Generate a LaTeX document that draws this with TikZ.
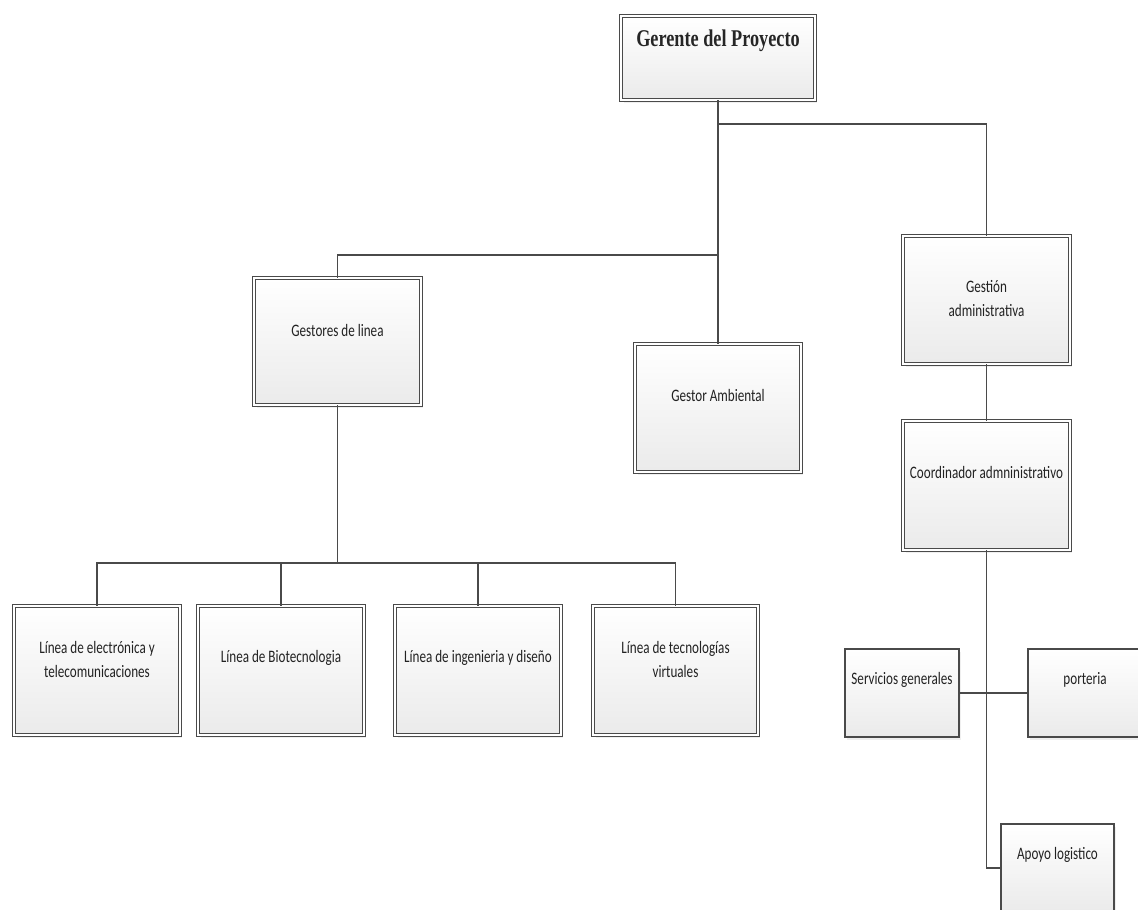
\documentclass[tikz,border=0pt]{standalone}
\usepackage{fontspec}
\usetikzlibrary{shadows}
\newfontfamily\boxfont[FakeStretch=0.75]{Carlito}
\newfontfamily\headfont[FakeStretch=0.76]{Liberation Serif}
\definecolor{edge}{HTML}{4A4A4A}
\definecolor{ink}{HTML}{222222}
\tikzset{
  x=1pt, y=1pt,
  unitbox/.style={rectangle, inner sep=0pt, draw=edge, line width=1.2pt,
    double=white, double distance=2pt,
    top color=white, bottom color=black!8,
    drop shadow={shadow xshift=2.5pt, shadow yshift=-3pt, fill=black!12, opacity=0.5}},
  plainbox/.style={rectangle, inner sep=0pt, draw=edge, line width=1.3pt,
    top color=white, bottom color=black!8,
    drop shadow={shadow xshift=2pt, shadow yshift=-2.5pt, fill=black!12, opacity=0.5}},
  lbl/.style={font=\boxfont\fontsize{17.5}{24}\selectfont, text=ink, align=center, inner sep=0pt},
  link/.style={draw=edge, line width=1.3pt}
}
\begin{document}
\begin{tikzpicture}
\path[use as bounding box, fill=white] (0,0) rectangle (1138,-910);
\clip (0,0) rectangle (1138,-910);

% head of the project
\node[unitbox, minimum width=193.6pt, minimum height=83.6pt] (G) at (718,-58) {};
\node[font=\headfont\bfseries\fontsize{24}{28}\selectfont, text=black!85, inner sep=0pt] (Gt) at (718,-41) {Gerente del Proyecto};

% second level
\node[unitbox, minimum width=166.6pt, minimum height=126.6pt] (GL) at (337.5,-341.5) {};
\node[lbl] (GLt) at (337.5,-330) {Gestores de linea};

\node[unitbox, minimum width=165.6pt, minimum height=127.6pt] (GA) at (718,-408) {};
\node[lbl] (GAt) at (718,-395) {Gestor Ambiental};

\node[unitbox, minimum width=166.6pt, minimum height=127.6pt] (GAd) at (986.5,-300) {};
\node[lbl] (GAdt) at (986.5,-298.5) {Gestión\\administrativa};

\node[unitbox, minimum width=166.6pt, minimum height=128.6pt] (CA) at (986.5,-485.5) {};
\node[lbl] (CAt) at (986.5,-472) {Coordinador admninistrativo};

% research lines
\node[unitbox, minimum width=165.6pt, minimum height=128.6pt] (L1) at (97,-670.5) {};
\node[lbl] (L1t) at (97,-659.5) {Línea de electrónica y\\telecomunicaciones};

\node[unitbox, minimum width=165.6pt, minimum height=128.6pt] (L2) at (281,-670.5) {};
\node[lbl] (L2t) at (281,-658) {Línea de Biotecnologia};

\node[unitbox, minimum width=165.6pt, minimum height=128.6pt] (L3) at (478,-670.5) {};
\node[lbl] (L3t) at (478,-658) {Línea de ingenieria y diseño};

\node[unitbox, minimum width=164.6pt, minimum height=128.6pt] (L4) at (675.5,-670.5) {};
\node[lbl] (L4t) at (675.5,-659.5) {Línea de tecnologías\\virtuales};

% support staff
\node[plainbox, minimum width=114pt, minimum height=88pt] (SG) at (902,-693) {};
\node[lbl] (SGt) at (902,-680) {Servicios generales};

\node[plainbox, minimum width=114pt, minimum height=88pt] (PO) at (1085,-693) {};
\node[lbl] (POt) at (1085,-680) {porteria};

\node[plainbox, minimum width=113pt, minimum height=88pt] (AL) at (1057.5,-868) {};
\node[lbl] (ALt) at (1057.5,-855) {Apoyo logistico};

% junctions
\coordinate (jTop) at (718,-124);
\coordinate (jMid) at (718,-255);
\coordinate (jLines) at (337.5,-563);
\coordinate (jLog) at (986.5,-868);

% connectors
\draw[link] (G.south) -- (GA.north);
\draw[link] (jTop) -| (GAd.north);
\draw[link] (jMid) -| (GL.north);
\draw[link] (GAd.south) -- (CA.north);
\draw[link] (GL.south) -- (jLines);
\draw[link] (L1.north) |- (jLines) -| (L4.north);
\draw[link] (L2.north) -- (L2.north |- jLines);
\draw[link] (L3.north) -- (L3.north |- jLines);
\draw[link] (CA.south) -- (jLog) -- (AL.west);
\draw[link] (SG.east) -- (PO.west);
\end{tikzpicture}
\end{document}
